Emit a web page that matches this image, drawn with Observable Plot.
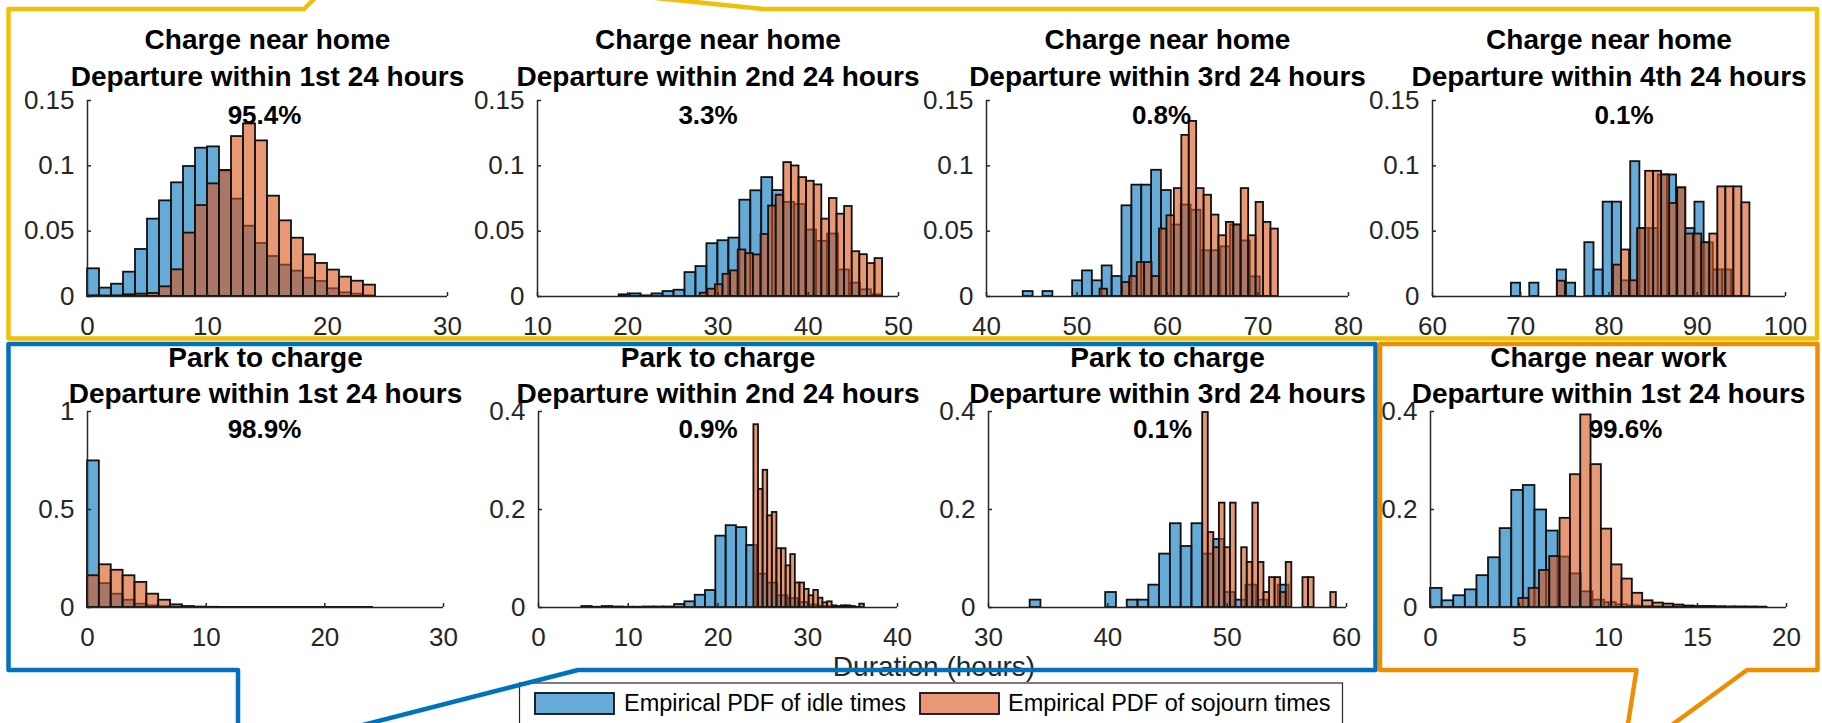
<!DOCTYPE html>
<html>
<head>
<meta charset="utf-8">
<script src="https://cdn.jsdelivr.net/npm/d3@7"></script>
<script src="https://cdn.jsdelivr.net/npm/@observablehq/plot@0.6"></script>
<style>
  html, body { margin: 0; padding: 0; background: #fff; }
  #root { position: relative; width: 1822px; height: 723px; overflow: hidden; background: #fff;
          font-family: "Liberation Sans", Arial, Helvetica, sans-serif; }
  #root > svg { position: absolute; }
</style>
</head>
<body>
<div id="root"></div>
<script>
// ---------------- data ----------------
const seriesNames = ["Empirical PDF of idle times", "Empirical PDF of sojourn times"];
const locations = ["Charge near home", "Charge near home", "Charge near home", "Charge near home",
                   "Park to charge", "Park to charge", "Park to charge", "Charge near work"];
const departures = ["Departure within 1st 24 hours", "Departure within 2nd 24 hours",
                    "Departure within 3rd 24 hours", "Departure within 4th 24 hours",
                    "Departure within 1st 24 hours", "Departure within 2nd 24 hours",
                    "Departure within 3rd 24 hours", "Departure within 1st 24 hours"];
const shares = ["95.4%", "3.3%", "0.8%", "0.1%", "98.9%", "0.9%", "0.1%", "99.6%"];
const xLabel = "Duration (hours)";

const xDomains = [[0, 30], [10, 50], [40, 80], [60, 100], [0, 30], [0, 40], [30, 60], [0, 20]];
const yDomains = [[0, 0.15], [0, 0.15], [0, 0.15], [0, 0.15], [0, 1], [0, 0.4], [0, 0.4], [0, 0.4]];
const xTickValues = [[0, 10, 20, 30], [10, 20, 30, 40, 50], [40, 50, 60, 70, 80], [60, 70, 80, 90, 100],
                     [0, 10, 20, 30], [0, 10, 20, 30, 40], [30, 40, 50, 60], [0, 5, 10, 15, 20]];
const yTickValues = [[0, 0.05, 0.1, 0.15], [0, 0.05, 0.1, 0.15], [0, 0.05, 0.1, 0.15], [0, 0.05, 0.1, 0.15],
                     [0, 0.5, 1], [0, 0.2, 0.4], [0, 0.2, 0.4], [0, 0.2, 0.4]];

// histogram bin origins and widths (hours)
const idleBinStart    = [0, 19.05, 44.06, 68.94, 0, 4.82, 33.49, 0];
const idleBinWidth    = [1, 1.215, 1.091, 1.04, 1, 1.149, 0.904, 0.652];
const sojournBinStart = [0, 28.03, 52.55, 74.15, 0, 24.0, 47.95, 4.96];
const sojournBinWidth = [1, 0.842, 0.821, 0.909, 1, 0.513, 0.4667, 0.58];

// empirical PDF heights per bin
const idleHome1 = [0.0212, 0.0064, 0.0094, 0.0186, 0.0360, 0.0592, 0.0732, 0.0870, 0.0995, 0.1135, 0.1145, 0.0960,
                   0.0745, 0.0538, 0.0406, 0.0306, 0.0240, 0.0194, 0.0140, 0.0115, 0.0059, 0.0028, 0.0018, 0.0005];
const sojournHome1 = [0.0005, 0.0004, 0.0005, 0.0013, 0.0018, 0.0023, 0.0074, 0.0204, 0.0485, 0.0696, 0.0862, 0.0965,
                      0.1224, 0.1321, 0.1191, 0.0768, 0.0579, 0.0446, 0.0319, 0.0253, 0.0202, 0.0148, 0.0117, 0.0087];
const idleHome2 = [0.0013, 0.0020, 0.0005, 0.0020, 0.0038, 0.0048, 0.0183, 0.0229, 0.0404, 0.0427, 0.0447, 0.0737,
                   0.0809, 0.0910, 0.0811, 0.0720, 0.0704, 0.0509, 0.0422, 0.0478, 0.0203, 0.0102, 0.0051, 0.0013];
const sojournHome2 = [0.0025, 0.0056, 0.0090, 0.0170, 0.0196, 0.0356, 0.0328, 0.0318, 0.0475, 0.0692, 0.0775, 0.1025,
                      0.0999, 0.0910, 0.0882, 0.0854, 0.0592, 0.0750, 0.0630, 0.0689, 0.0343, 0.0320, 0.0252, 0.0290];
const idleHome3 = [0.0038, 0, 0.0038, 0, 0, 0.0120, 0.0196, 0.0120, 0.0234, 0.0153, 0.0694, 0.0852,
                   0.0852, 0.0966, 0.0811, 0.0547, 0.0700, 0.0660, 0.0350, 0.0350, 0.0380, 0.0547, 0.0425, 0.0150];
const sojournHome3 = [0.0056, 0, 0, 0.0107, 0.0153, 0.0260, 0.0260, 0.0153, 0.0516, 0.0618, 0.0826, 0.1233,
                      0.1340, 0.0826, 0.0775, 0.0623, 0.0465, 0.0567, 0.0547, 0.0826, 0.0465, 0.0720, 0.0567, 0.0516];
const idleHome4 = [0.0102, 0, 0.0102, 0, 0, 0.0203, 0.0102, 0, 0.0412, 0.0203, 0.0722, 0.0722,
                   0.0120, 0.1032, 0.0520, 0.0520, 0.0930, 0.0930, 0.0831, 0.0520, 0.0722, 0.0410, 0.0203, 0.0203];
const sojournHome4 = [0.0117, 0, 0, 0, 0, 0, 0, 0.0240, 0.0356, 0.0120, 0.0520, 0.0958,
                      0.0958, 0.0930, 0.0712, 0.0831, 0.0478, 0.0478, 0.0412, 0.0478, 0.0839, 0.0839, 0.0839, 0.0717];
const idlePark1 = [0.748, 0.122, 0.068, 0.037, 0.017, 0.0085, 0.004, 0.002, 0.001, 0.0006, 0.0004, 0.0004,
                   0.0004, 0.0004, 0.0004, 0.0004, 0.0004, 0.0004, 0.0004, 0.0004, 0.0004, 0.0004, 0.0004, 0.0004];
const sojournPark1 = [0.162, 0.218, 0.190, 0.162, 0.128, 0.068, 0.037, 0.0136, 0.005, 0.002, 0.001, 0.0004,
                      0.0004, 0.0004, 0.0004, 0.0004, 0.0004, 0.0004, 0.0004, 0.0004, 0.0004, 0.0004, 0.0004, 0.0004];
const idlePark2 = [0.002, 0.0005, 0.002, 0.001, 0.0005, 0.0005, 0.001, 0.001, 0.001, 0.006, 0.0116, 0.025,
                   0.0347, 0.1456, 0.167, 0.163, 0.1265, 0.068, 0.0497, 0.024, 0.018, 0.010, 0.005, 0.002];
const sojournPark2 = [0.373, 0.241, 0.280, 0.187, 0.194, 0.120, 0.120, 0.085, 0.108, 0.050, 0.050, 0.037,
                      0.024, 0.035, 0.019, 0.0095, 0.0116, 0.0034, 0.002, 0.0034, 0.0034, 0.002, 0.0005, 0.0068];
const idlePark3 = [0.015, 0, 0, 0, 0, 0, 0, 0.0306, 0, 0.015, 0.015, 0.0456,
                   0.109, 0.171, 0.1245, 0.171, 0.109, 0.139, 0.0306, 0.015, 0.0456, 0.015, 0, 0.0456];
const sojournPark3 = [0.398, 0.153, 0.122, 0.213, 0.122, 0.213, 0, 0.122, 0.092, 0.213, 0.092, 0.0306,
                      0.061, 0.061, 0.0306, 0.092, 0, 0, 0.061, 0.061, 0, 0, 0, 0.0306];
const idleWork1 = [0.039, 0.0137, 0.024, 0.036, 0.065, 0.1015, 0.161, 0.239, 0.249, 0.199, 0.156, 0.103,
                   0.0686, 0.032, 0.015, 0.010, 0.0055, 0.003, 0.002, 0.0015, 0.001, 0.001, 0.0008, 0.0008,
                   0.0006, 0.0006, 0.0005, 0.0005, 0.0004];
const sojournWork1 = [0.0185, 0.039, 0.0755, 0.104, 0.182, 0.271, 0.393, 0.2916, 0.160, 0.087, 0.058, 0.029,
                      0.0137, 0.009, 0.007, 0.005, 0.003, 0.002, 0.002, 0.0015, 0.001, 0.001, 0.0008, 0.0006];

const idleValues = [idleHome1, idleHome2, idleHome3, idleHome4, idlePark1, idlePark2, idlePark3, idleWork1];
const sojournValues = [sojournHome1, sojournHome2, sojournHome3, sojournHome4, sojournPark1, sojournPark2, sojournPark3, sojournWork1];

// ---------------- layout & style ----------------
const FONT = '"Liberation Sans", Arial, Helvetica, sans-serif';
const BLUE = "#0072BD", ORANGE = "#D95319", AXIS = "#262626";
const frames = [
  {x: 87,   y: 100, w: 360, h: 196, pctDx: -3},
  {x: 537,  y: 100, w: 361, h: 196, pctDx: -10},
  {x: 986,  y: 100, w: 362, h: 196, pctDx: -6},
  {x: 1432, y: 100, w: 353, h: 196, pctDx: 15},
  {x: 87,   y: 411, w: 356, h: 196, pctDx: -1},
  {x: 538,  y: 411, w: 359, h: 196, pctDx: -10},
  {x: 988,  y: 411, w: 358, h: 196, pctDx: -5},
  {x: 1430, y: 411, w: 356, h: 196, pctDx: 17}
];
const titleDy = {top: [-52, -15, 23], bottom: [-45, -9, 26]};

function bins(start, width, values) {
  return values.map((v, i) => ({x1: start + i * width, x2: start + (i + 1) * width, y1: 0, y2: v}))
               .filter(d => d.y2 > 0);
}

const root = document.getElementById("root");
const mL = 95, mR = 45, mT = 110, mB = 55;

frames.forEach((f, i) => {
  const [x0, x1] = xDomains[i];
  const [y0, y1] = yDomains[i];
  const dys = i < 4 ? titleDy.top : titleDy.bottom;
  const tx = (x1 - x0) * 4 / f.w, ty = (y1 - y0) * 4 / f.h;
  const svg = Plot.plot({
    width: f.w + mL + mR,
    height: f.h + mT + mB,
    marginLeft: mL, marginRight: mR, marginTop: mT, marginBottom: mB,
    x: {domain: xDomains[i], label: null},
    y: {domain: yDomains[i], label: null},
    style: {fontFamily: FONT, fontSize: "26px", color: AXIS, background: "transparent", overflow: "visible"},
    marks: [
      Plot.rect(bins(idleBinStart[i], idleBinWidth[i], idleValues[i]),
        {x1: "x1", x2: "x2", y1: "y1", y2: "y2", fill: BLUE, fillOpacity: 0.6, stroke: "#111", strokeWidth: 1.8}),
      Plot.rect(bins(sojournBinStart[i], sojournBinWidth[i], sojournValues[i]),
        {x1: "x1", x2: "x2", y1: "y1", y2: "y2", fill: ORANGE, fillOpacity: 0.6, stroke: "#111", strokeWidth: 1.8}),
      Plot.ruleY([y0], {x1: x0, x2: x1, stroke: AXIS, strokeWidth: 1.5}),
      Plot.ruleX([x0], {y1: y0, y2: y1, stroke: AXIS, strokeWidth: 1.5}),
      Plot.ruleX(xTickValues[i], {y1: y0, y2: y0 + ty, stroke: AXIS, strokeWidth: 1.5}),
      Plot.ruleY(yTickValues[i], {x1: x0, x2: x0 + tx, stroke: AXIS, strokeWidth: 1.5}),
      Plot.axisX({ticks: xTickValues[i], tickSize: 0, tickPadding: 20, tickFormat: d => String(d), label: null}),
      Plot.axisY({ticks: yTickValues[i], tickSize: 0, tickPadding: 13, tickFormat: d => String(d), label: null}),
      Plot.text([locations[i]], {text: d => d, frameAnchor: "top", dy: dys[0], lineAnchor: "bottom",
        fontSize: 28, fontWeight: "bold", fill: "#000"}),
      Plot.text([departures[i]], {text: d => d, frameAnchor: "top", dy: dys[1], lineAnchor: "bottom",
        fontSize: 28, fontWeight: "bold", fill: "#000"}),
      Plot.text([shares[i]], {text: d => d, frameAnchor: "top", dy: dys[2], dx: f.pctDx, lineAnchor: "bottom",
        fontSize: 26, fontWeight: "bold", fill: "#000"})
    ]
  });
  svg.style.left = (f.x - mL) + "px";
  svg.style.top = (f.y - mT) + "px";
  root.appendChild(svg);
});

// ---------------- overlay: x label, legend, callout frames ----------------
const ov = d3.select(root).append("svg")
  .attr("width", 1822).attr("height", 723)
  .style("left", "0px").style("top", "0px")
  .style("font-family", FONT);

ov.append("text").attr("x", 934).attr("y", 676).attr("text-anchor", "middle")
  .attr("font-size", 28).attr("fill", AXIS).text(xLabel);

const legend = ov.append("g");
legend.append("rect").attr("x", 519.5).attr("y", 683).attr("width", 823).attr("height", 70)
  .attr("fill", "#fff").attr("stroke", AXIS).attr("stroke-width", 1.2);
const legendItems = [{sx: 535, tx: 624, color: BLUE}, {sx: 920, tx: 1008, color: ORANGE}];
seriesNames.forEach((name, k) => {
  const it = legendItems[k];
  legend.append("rect").attr("x", it.sx).attr("y", 693).attr("width", 79).attr("height", 21)
    .attr("fill", it.color).attr("fill-opacity", 0.6).attr("stroke", "#111").attr("stroke-width", 1.8);
  legend.append("text").attr("x", it.tx).attr("y", 711).attr("font-size", 23.5).attr("fill", "#000").text(name);
});

const callouts = [
  {color: "#F1BE0A", pts: [[316, -3], [304, 9], [8.5, 9], [8.5, 338.5], [1817, 338.5], [1817, 9], [763, 9], [646, -3]]},
  {color: "#0072BD", pts: [[238, 730], [238, 670], [8.5, 670], [8.5, 344], [1375.5, 344], [1375.5, 670], [578, 670], [355, 727]]},
  {color: "#EE8E00", pts: [[1627, 730], [1636.5, 670], [1380, 670], [1380, 344], [1817.5, 344], [1817.5, 670], [1747, 670], [1665, 730]]}
];
callouts.forEach(c => {
  ov.append("path").attr("d", d3.line()(c.pts)).attr("fill", "none").attr("stroke", c.color)
    .attr("stroke-width", 4.5).attr("stroke-linejoin", "round");
});
</script>
</body>
</html>
